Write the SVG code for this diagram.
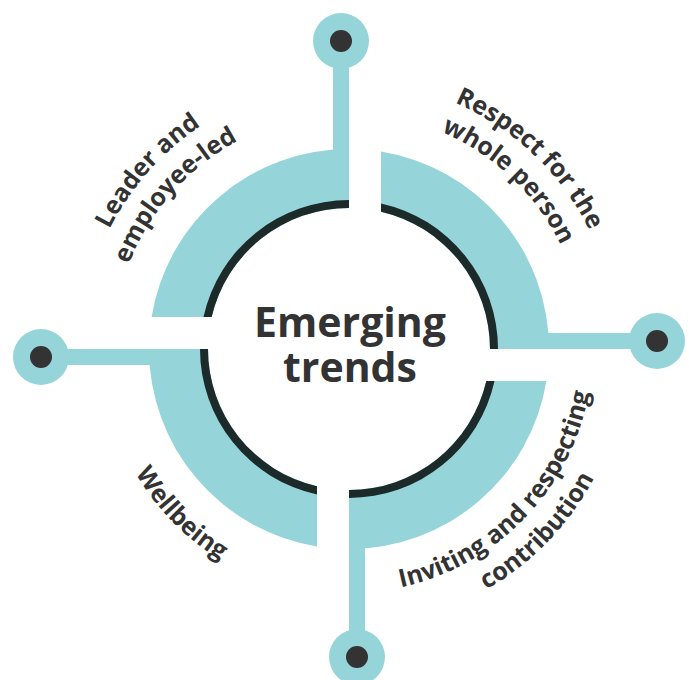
<svg xmlns="http://www.w3.org/2000/svg" width="689" height="680" viewBox="0 0 689 680">
<style>
.teal{fill:#95d5d9}
.dark{fill:#1c2a2a}
.stem{stroke:#95d5d9;stroke-width:16;fill:none}
.pin{fill:#95d5d9}
.dot{fill:#333333}
.lbl{font-family:"Open Sans","Noto Sans",sans-serif;font-weight:700;font-size:25px;fill:#333333}
.title{font-family:"Open Sans","Noto Sans",sans-serif;font-weight:700;font-size:41px;fill:#333333;text-anchor:middle}
</style>
<defs>
<path id="pTL1" d="M139.3,515.8 A268,268 0 0 1 489.0,120.5"/>
<path id="pTL2" d="M164.3,495.9 A236,236 0 0 1 472.3,147.8"/>
<path id="pTR1" d="M189.6,133.6 A268,268 0 0 1 572.5,497.0"/>
<path id="pTR2" d="M208.6,159.3 A236,236 0 0 1 545.8,479.2"/>
<path id="pBR1" d="M212.6,551.3 A244,244 0 0 0 546.4,205.6"/>
<path id="pBR2" d="M194.1,578.6 A277,277 0 0 0 573.1,186.2"/>
<path id="pBL1" d="M148.2,205.2 A247,247 0 0 0 488.6,552.8"/>
</defs>
<g id="connectors">
<line class="stem" x1="341" y1="41" x2="341" y2="165"/>
<line class="stem" x1="535" y1="341" x2="657" y2="341"/>
<line class="stem" x1="357" y1="535" x2="357" y2="657"/>
<line class="stem" x1="41" y1="357" x2="165" y2="357"/>
<circle class="pin" cx="341" cy="41" r="28"/><circle class="dot" cx="341" cy="41" r="11"/>
<circle class="pin" cx="657" cy="341" r="28"/><circle class="dot" cx="657" cy="341" r="11"/>
<circle class="pin" cx="357" cy="657" r="28"/><circle class="dot" cx="357" cy="657" r="11"/>
<circle class="pin" cx="41" cy="357" r="28"/><circle class="dot" cx="41" cy="357" r="11"/>
</g>
<g id="leader">
<path class="teal" d="M151.58,317 A200,200 0 0 1 349,149 L349,208 A141,141 0 0 0 211.68,317 Z"/>
<path class="dark" d="M203.48,317 A149,149 0 0 1 349,200 L349,208 A141,141 0 0 0 211.68,317 Z"/>
<text class="lbl"><textPath href="#pTL1" startOffset="50%" text-anchor="middle">Leader and</textPath></text>
<text class="lbl"><textPath href="#pTL2" startOffset="50%" text-anchor="middle">employee-led</textPath></text>
</g>
<g id="respect">
<path class="teal" d="M381,151.58 A200,200 0 0 1 549,349 L490,349 A141,141 0 0 0 381,211.68 Z"/>
<path class="dark" d="M381,203.48 A149,149 0 0 1 498,349 L490,349 A141,141 0 0 0 381,211.68 Z"/>
<text class="lbl"><textPath href="#pTR1" startOffset="50%" text-anchor="middle">Respect for the</textPath></text>
<text class="lbl"><textPath href="#pTR2" startOffset="50%" text-anchor="middle">whole person</textPath></text>
</g>
<g id="inviting">
<path class="teal" d="M546.42,381 A200,200 0 0 1 349,549 L349,490 A141,141 0 0 0 486.32,381 Z"/>
<path class="dark" d="M494.52,381 A149,149 0 0 1 349,498 L349,490 A141,141 0 0 0 486.32,381 Z"/>
<text class="lbl"><textPath href="#pBR1" startOffset="50%" text-anchor="middle">Inviting and respecting</textPath></text>
<text class="lbl"><textPath href="#pBR2" startOffset="50%" text-anchor="middle">contribution</textPath></text>
</g>
<g id="wellbeing">
<path class="teal" d="M317,546.42 A200,200 0 0 1 149,349 L208,349 A141,141 0 0 0 317,486.32 Z"/>
<path class="dark" d="M317,494.52 A149,149 0 0 1 200,349 L208,349 A141,141 0 0 0 317,486.32 Z"/>
<text class="lbl"><textPath href="#pBL1" startOffset="50%" text-anchor="middle">Wellbeing</textPath></text>
</g>
<g id="center">
<text class="title" x="350" y="337">Emerging</text>
<text class="title" x="350" y="382">trends</text>
</g>
</svg>
